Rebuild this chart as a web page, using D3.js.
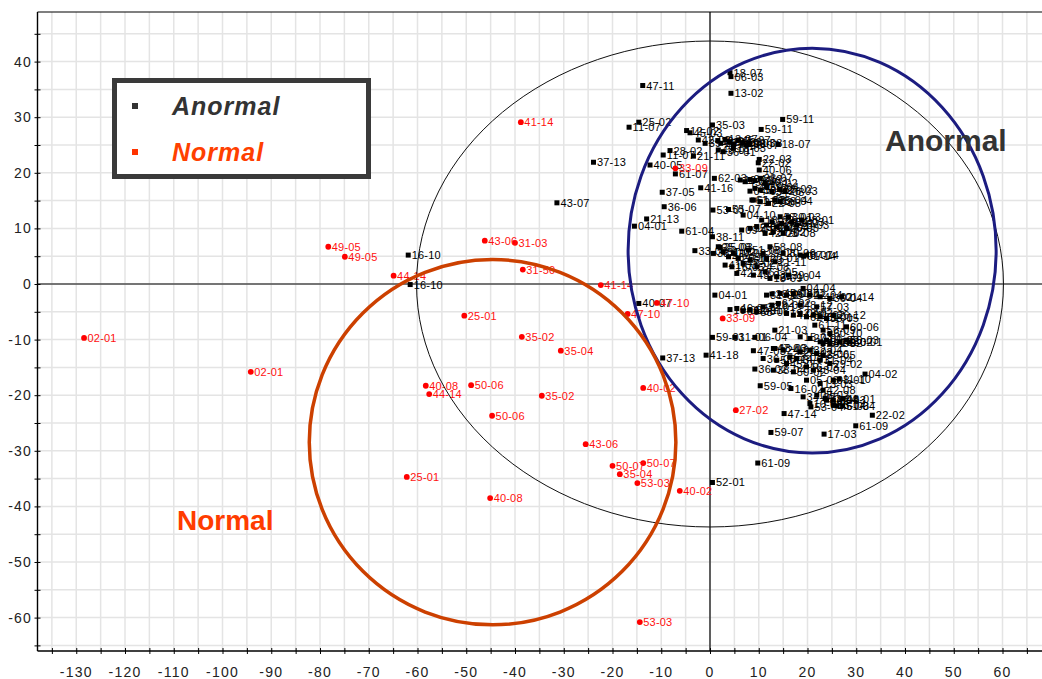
<!DOCTYPE html>
<html>
<head>
<meta charset="utf-8">
<script src="https://cdn.jsdelivr.net/npm/d3@7"></script>
<style>
  html, body { margin: 0; padding: 0; background: #fff; }
  svg { display: block; }
</style>
</head>
<body>
<svg id="chart" width="1042" height="679"></svg>
<script>
// PCA score plot: PC1 (x) vs PC2 (y), samples labelled by code
const xTicks = [-130, -120, -110, -100, -90, -80, -70, -60, -50, -40, -30, -20, -10, 0, 10, 20, 30, 40, 50, 60];
const yTicks = [-60, -50, -40, -30, -20, -10, 0, 10, 20, 30, 40];

// Normal samples [code, PC1, PC2]
const normal = [
  ["02-01", -128.4, -9.7], ["02-01", -94.2, -15.8], ["49-05", -78.3, 6.7], ["49-05", -74.9, 4.9],
  ["44-14", -64.9, 1.5], ["25-01", -62.2, -34.7], ["41-14", -38.8, 29.1], ["43-06", -46.2, 7.8],
  ["31-03", -40.0, 7.4], ["31-50", -38.4, 2.6], ["41-14", -22.4, -0.2], ["47-10", -10.9, -3.4],
  ["47-10", -16.9, -5.4], ["25-01", -50.4, -5.7], ["35-02", -38.6, -9.5], ["35-04", -30.6, -12.0],
  ["40-08", -58.3, -18.3], ["44-14", -57.6, -19.8], ["50-06", -49.0, -18.2], ["35-02", -34.5, -20.1],
  ["50-06", -44.7, -23.7], ["40-02", -13.7, -18.7], ["43-06", -25.5, -28.8], ["50-07", -20.0, -32.7],
  ["50-07", -13.7, -32.2], ["35-04", -18.5, -34.2], ["53-03", -14.9, -35.8], ["40-02", -6.2, -37.2],
  ["40-08", -45.1, -38.5], ["53-03", -14.4, -60.8], ["27-02", 5.3, -22.7], ["33-09", 2.6, -6.2],
  ["33-09", -7.1, 20.8]
];

// Anormal samples [code, PC1, PC2]
const anormal = [
  ["16-10", -61.9, 5.2], ["16-10", -61.5, -0.1], ["47-11", -13.8, 35.7], ["25-02", -14.6, 29.1],
  ["11-07", -16.6, 28.2], ["37-13", -23.9, 21.9], ["43-07", -31.4, 14.6], ["04-01", -15.5, 10.4],
  ["21-13", -13.0, 11.7], ["61-04", -5.8, 9.5], ["40-05", -12.3, 21.4], ["61-07", -7.1, 19.8],
  ["11-07", -9.6, 23.2], ["28-02", -8.2, 24.0], ["21-11", -3.4, 23.0], ["37-05", -9.8, 16.5],
  ["36-06", -9.4, 13.9], ["41-16", -1.9, 17.3], ["62-03", 0.9, 19.0], ["35-03", 0.5, 28.6],
  ["12-02", -4.8, 27.6], ["45-03", -4.1, 27.2], ["18-07", 4.1, 38.0], ["06-03", 4.3, 37.3],
  ["13-02", 4.3, 34.3], ["59-11", 14.9, 29.6], ["59-11", 10.5, 27.8], ["18-07", 14.0, 25.1],
  ["22-03", 10.1, 22.4], ["22-02", 9.9, 21.8], ["40-06", 10.1, 20.5], ["26-03", 15.4, 16.7],
  ["58-04", 14.4, 14.9], ["58-08", 12.3, 6.7], ["07-14", 19.8, 5.2], ["01-14", 19.2, 5.0],
  ["39-04", 16.1, 1.6], ["38-11", 0.5, 8.5], ["33-03", -3.1, 6.0], ["25-03", 2.1, 6.6],
  ["21-11", 13.3, 4.0], ["04-01", 1.0, -2.0], ["04-04", 19.1, -0.8], ["01-14", 27.0, -2.3],
  ["59-01", 0.5, -9.6], ["41-18", -0.8, -12.8], ["37-13", -9.7, -13.3], ["40-07", -14.6, -3.5],
  ["59-05", 10.3, -18.3], ["16-02", 16.6, -18.8], ["04-02", 31.8, -16.2], ["11-10", 26.5, -17.1],
  ["48-01", 27.3, -20.6], ["51-04", 27.2, -21.9], ["22-02", 33.3, -23.6], ["61-09", 29.9, -25.5],
  ["17-03", 23.4, -27.0], ["47-14", 15.2, -23.3], ["59-07", 12.5, -26.7], ["61-09", 9.8, -32.2],
  ["52-01", 0.5, -35.7], ["60-06", 28.0, -7.7], ["30-01", 28.7, -10.4], ["53-01", 0.6, 13.3],
  ["55-07", 3.8, 13.4], ["04-10", 6.8, 12.4], ["61-02", 8.6, 15.1], ["47-03", 8.9, -12.0],
  ["06-04", 9.2, -9.6], ["31-01", 5.1, -9.6], ["21-03", 13.3, -8.3], ["36-02", 9.2, -15.3],
  ["43-04", 21.2, -15.5], ["48-03", 13.3, -11.6], ["10-02", 20.5, -21.5], ["53-04", 20.7, -22.1],
  // upper band near PC2 = 25
  ["12-07", 1.6, 25.8], ["18-01", 2.2, 25.3], ["13-07", 3.1, 26.0], ["28-03", 4.0, 25.6],
  ["14-03", 4.8, 25.2], ["45-07", 5.8, 25.9], ["19-03", 6.7, 25.4], ["26-07", 7.5, 25.0],
  ["48-01", 1.7, 24.1], ["36-01", 2.7, 23.8], ["18-03", 4.8, 24.4], ["09-03", 8.2, 25.3],
  ["42-02", -2.4, 25.9], ["39-03", -1.0, 25.3],
  // band near PC2 = 17
  ["19-02", 6.2, 18.7], ["45-07", 7.2, 18.4], ["04-12", 8.2, 18.8], ["07-03", 9.2, 18.6],
  ["23-07", 10.3, 19.0], ["40-02", 11.3, 18.1], ["04-05", 8.2, 16.7], ["44-12", 9.2, 17.2],
  ["10-02", 10.3, 16.9], ["59-04", 11.6, 17.5], ["34-08", 12.7, 16.6], ["58-02", 14.4, 17.0],
  ["61-03", 8.9, 15.1], ["27-03", 10.3, 14.8], ["22-08", 12.0, 14.5], ["15-04", 13.3, 15.1],
  // band near PC2 = 10
  ["55-01", 8.2, 10.0], ["23-01", 9.6, 10.3], ["18-02", 10.6, 11.5], ["49-01", 11.6, 10.6],
  ["12-03", 12.7, 11.2], ["29-04", 13.7, 10.3], ["33-01", 14.7, 10.9], ["26-05", 15.7, 10.0],
  ["54-03", 16.8, 11.2], ["20-03", 17.8, 10.6], ["28-01", 18.8, 11.5], ["37-02", 13.0, 9.4],
  ["42-03", 11.3, 9.1], ["26-08", 15.0, 9.1], ["09-01", 6.5, 9.7], ["57-01", 14.4, 12.1],
  ["30-03", 16.1, 12.1],
  // band near PC2 = 4
  ["33-11", 0.7, 5.5], ["25-08", 1.7, 6.7], ["51-02", 2.7, 5.8], ["46-09", 3.8, 4.9],
  ["19-08", 4.8, 5.5], ["25-11", 5.8, 4.6], ["41-03", 3.1, 3.4], ["16-05", 4.5, 3.1],
  ["47-02", 6.8, 3.7], ["61-03", 8.2, 4.3], ["24-08", 9.6, 3.1], ["29-08", 10.9, 5.5],
  ["20-01", 11.6, 4.6], ["42-10", 5.5, 1.9], ["43-03", 8.9, 1.6], ["61-05", 11.3, 2.2],
  ["18-09", 12.3, 1.0], ["34-10", 13.7, 1.3], ["20-06", 15.0, 5.5], ["48-07", 18.5, 5.2],
  ["51-08", 7.9, 6.1],
  // lower cluster
  ["31-02", 11.6, -2.0], ["28-06", 12.7, -1.8], ["45-02", 14.4, -1.7], ["13-04", 15.7, -2.0],
  ["60-01", 17.1, -1.7], ["22-04", 20.5, -2.0], ["41-02", 22.6, -2.3], ["36-04", 24.6, -2.6],
  ["28-03", 12.7, -3.8], ["62-02", 14.0, -3.5], ["32-01", 10.9, -4.1], ["10-08", 4.1, -4.6],
  ["46-01", 5.5, -4.4], ["06-03", 6.8, -4.8], ["12-01", 8.2, -4.7], ["58-06", 9.6, -5.0],
  ["19-04", 15.7, -5.3], ["44-01", 17.1, -5.6], ["23-02", 18.5, -5.3], ["62-01", 19.8, -5.9],
  ["11-02", 21.2, -5.6], ["39-01", 22.6, -5.9], ["38-05", 23.9, -6.2], ["26-12", 25.3, -5.6],
  ["48-12", 18.5, -3.8], ["57-03", 21.9, -4.1], ["61-11", 21.5, -7.4], ["56-09", 23.2, -8.3],
  ["60-10", 24.6, -8.9], ["15-03", 18.5, -9.5], ["27-01", 20.5, -9.8], ["45-10", 22.6, -10.4],
  ["09-02", 23.9, -10.1], ["49-02", 26.7, -10.4], ["50-03", 28.0, -10.1], ["32-04", 20.5, -11.9],
  ["12-06", 21.9, -12.5], ["20-02", 18.5, -12.2], ["24-01", 15.0, -11.9], ["63-03", 16.4, -13.1],
  ["47-06", 13.0, -11.6], ["36-08", 10.9, -13.4], ["58-03", 13.7, -13.7], ["45-05", 15.7, -14.3],
  ["14-01", 17.8, -13.4], ["16-03", 19.8, -14.9], ["59-02", 17.1, -15.8], ["38-04", 13.0, -15.5],
  ["31-04", 22.6, -13.7], ["29-02", 24.6, -14.3], ["05-08", 19.8, -17.3], ["13-03", 22.6, -17.9],
  ["34-02", 19.1, -20.3], ["08-02", 21.9, -20.0], ["44-04", 23.9, -20.9], ["63-04", 25.3, -21.8],
  ["24-03", 23.2, -10.7], ["52-02", 24.6, -10.7], ["35-05", 23.2, -12.8], ["08-01", 25.3, -17.3],
  ["42-08", 23.2, -19.1], ["57-04", 23.6, -20.6], ["32-03", 25.3, -20.9], ["46-03", 26.0, -21.9]
];

// Confidence ellipses in score units: [centre PC1, centre PC2, radius PC1, radius PC2]
const hotellingEllipse = [0, 0, 60.2, 43.7];
const anormalEllipse = [20.95, 6.0, 37.75, 36.4];
const normalEllipse = [-44.6, -28.45, 37.6, 32.85];

const svg = d3.select("#chart");
const W = 1042, H = 679;

const x = d3.scaleLinear().domain([-130, 60]).range([76.25, 1002.5]);
const y = d3.scaleLinear().domain([40, -60]).range([61.6, 617.6]);

const plotLeft = 37.5, plotRight = W, plotTop = 12, plotBottom = 651;
const xLo = x.invert(plotLeft), xHi = x.invert(plotRight);
const yHi = y.invert(plotTop), yLo = y.invert(plotBottom);

// grid every 5 units
const gridX = d3.range(Math.ceil(xLo / 5) * 5, xHi, 5);
const gridY = d3.range(Math.ceil(yLo / 5) * 5, yHi, 5);

const grid = svg.append("g").attr("stroke", "#e4e4e4").attr("stroke-width", 1.5);
grid.selectAll(".gx").data(gridX).join("line").attr("class", "gx")
  .attr("x1", d => x(d)).attr("x2", d => x(d)).attr("y1", plotTop).attr("y2", plotBottom);
grid.selectAll(".gy").data(gridY).join("line").attr("class", "gy")
  .attr("x1", plotLeft).attr("x2", plotRight).attr("y1", d => y(d)).attr("y2", d => y(d));

// origin lines
svg.append("line").attr("x1", plotLeft).attr("x2", plotRight).attr("y1", y(0)).attr("y2", y(0))
  .attr("stroke", "#000").attr("stroke-width", 1.2);
svg.append("line").attr("x1", x(0)).attr("x2", x(0)).attr("y1", plotTop).attr("y2", plotBottom)
  .attr("stroke", "#000").attr("stroke-width", 1.2);

// axes
const xAxis = d3.axisBottom(x).tickValues(gridX).tickSize(0).tickFormat("");
const gx = svg.append("g").attr("transform", `translate(0,${plotBottom})`).call(xAxis);
gx.select(".domain").remove();
gx.selectAll(".tick").append("line").attr("y1", -3).attr("y2", 3).attr("stroke", "#000");
svg.append("line").attr("x1", plotLeft).attr("x2", plotRight).attr("y1", plotBottom).attr("y2", plotBottom)
  .attr("stroke", "#000").attr("stroke-width", 1.4);
svg.append("line").attr("x1", plotLeft).attr("x2", plotRight).attr("y1", plotTop).attr("y2", plotTop)
  .attr("stroke", "#000").attr("stroke-width", 1.2);
svg.append("line").attr("x1", plotLeft).attr("x2", plotLeft).attr("y1", plotTop).attr("y2", plotBottom)
  .attr("stroke", "#000").attr("stroke-width", 1.4);

const yAxis = d3.axisLeft(y).tickValues(gridY).tickSize(0).tickFormat("");
const gy = svg.append("g").attr("transform", `translate(${plotLeft},0)`).call(yAxis);
gy.select(".domain").remove();
gy.selectAll(".tick").append("line").attr("x1", -3).attr("x2", 3).attr("stroke", "#000");

const tickFont = "'Liberation Sans', Arial, sans-serif";
svg.append("g").selectAll("text").data(xTicks).join("text")
  .attr("x", d => x(d)).attr("y", 677)
  .attr("text-anchor", "middle")
  .attr("font-family", tickFont).attr("font-size", 14).attr("letter-spacing", 1.2)
  .attr("fill", "#222").text(d => d);
svg.append("g").selectAll("text").data(yTicks).join("text")
  .attr("x", 32).attr("y", d => y(d) + 5)
  .attr("text-anchor", "end")
  .attr("font-family", tickFont).attr("font-size", 14).attr("letter-spacing", 1.2)
  .attr("fill", "#222").text(d => d);

// points and labels
const labelFont = "'Liberation Sans', Arial, sans-serif";
const pts = svg.append("g");
pts.selectAll("rect").data(anormal).join("rect")
  .attr("x", d => x(d[1]) - 2.5).attr("y", d => y(d[2]) - 2.5)
  .attr("width", 5).attr("height", 5).attr("fill", "#000");
pts.selectAll("text.a").data(anormal).join("text").attr("class", "a")
  .attr("x", d => x(d[1]) + 3.5).attr("y", d => y(d[2]) + 4)
  .attr("font-family", labelFont).attr("font-size", 11).attr("letter-spacing", 0.2)
  .attr("fill", "#000").text(d => d[0]);
pts.selectAll("circle").data(normal).join("circle")
  .attr("cx", d => x(d[1])).attr("cy", d => y(d[2])).attr("r", 2.9).attr("fill", "#ff0000");
pts.selectAll("text.n").data(normal).join("text").attr("class", "n")
  .attr("x", d => x(d[1]) + 3.5).attr("y", d => y(d[2]) + 4)
  .attr("font-family", labelFont).attr("font-size", 11).attr("letter-spacing", 0.2)
  .attr("fill", "#ff1010").text(d => d[0]);

// ellipses
function ellipse(e, stroke, width) {
  svg.append("ellipse")
    .attr("cx", x(e[0])).attr("cy", y(e[1]))
    .attr("rx", x(e[0] + e[2]) - x(e[0])).attr("ry", y(e[1] - e[3]) - y(e[1]))
    .attr("fill", "none").attr("stroke", stroke).attr("stroke-width", width);
}
ellipse(hotellingEllipse, "#111", 1);
ellipse(anormalEllipse, "#1c1c80", 3);
ellipse(normalEllipse, "#cc4000", 3.5);

// group captions
const capFont = "'Liberation Sans', Arial, sans-serif";
svg.append("text").attr("x", 885).attr("y", 151)
  .attr("font-family", capFont).attr("font-weight", "bold").attr("font-size", 30)
  .attr("fill", "#333").text("Anormal");
svg.append("text").attr("x", 177).attr("y", 530)
  .attr("font-family", capFont).attr("font-weight", "bold").attr("font-size", 28)
  .attr("fill", "#ff3c00").text("Normal");

// legend
const legend = svg.append("g");
legend.append("rect").attr("x", 114.5).attr("y", 80.5).attr("width", 254).attr("height", 96)
  .attr("fill", "#fff").attr("stroke", "#3a3a3a").attr("stroke-width", 5);
const legendItems = [["Anormal", "#333", "#333"], ["Normal", "#ff4000", "#ff3300"]];
legend.selectAll("g").data(legendItems).join("g")
  .attr("transform", (d, i) => `translate(0,${i * 46})`)
  .each(function (d) {
    const g = d3.select(this);
    g.append("rect").attr("x", 132).attr("y", 103).attr("width", 6).attr("height", 6).attr("fill", d[2]);
    g.append("text").attr("x", 172).attr("y", 115)
      .attr("font-family", capFont).attr("font-weight", "bold").attr("font-style", "italic")
      .attr("font-size", 25).attr("letter-spacing", 1).attr("fill", d[1]).text(d[0]);
  });
</script>
</body>
</html>
